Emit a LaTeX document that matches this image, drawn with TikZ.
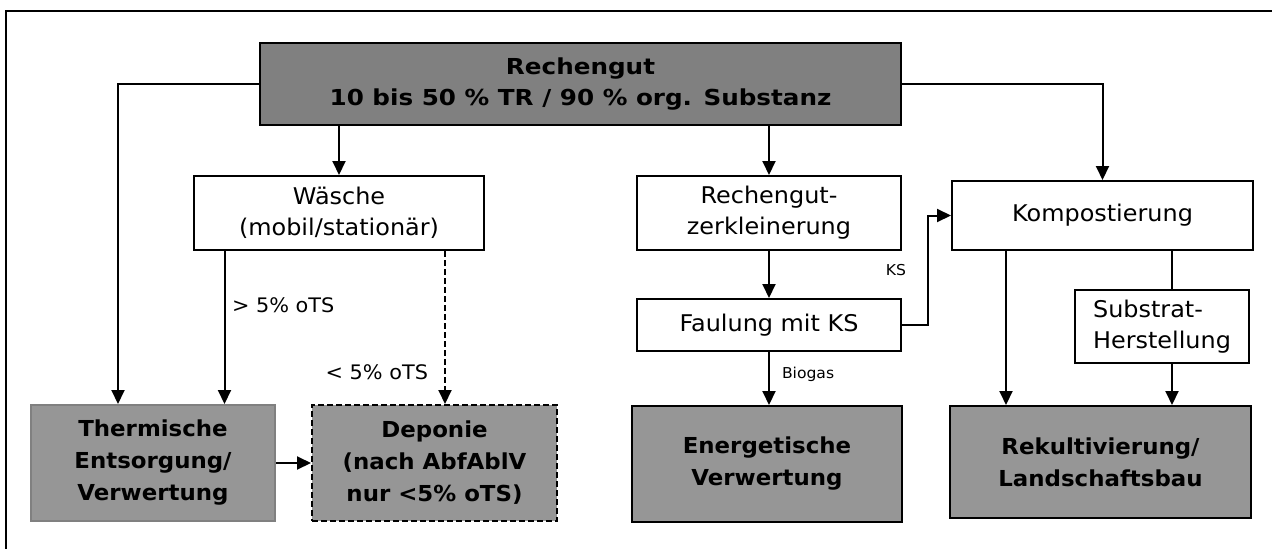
\documentclass[tikz,border=0pt]{standalone}
\usepackage{fontspec}
\setmainfont{DejaVu Sans}[FakeStretch=1.04]
\newfontfamily\kopffont{DejaVu Sans}[FakeStretch=1.12]
\usepackage{tikz}
\usetikzlibrary{arrows.meta}
\definecolor{dunkel}{RGB}{128,128,128}
\definecolor{hell}{RGB}{150,150,150}

\begin{document}
\begin{tikzpicture}[x=1pt,y=-1pt,line width=2pt,>={Triangle[length=14pt,width=13pt]}]
	\tikzstyle{kasten}=[draw,rectangle,inner sep=2pt,align=center,font=\fontsize{23}{31}\selectfont];
	\tikzstyle{ziel}=[kasten,fill=hell,font=\bfseries\fontsize{22}{32}\selectfont];
	\tikzstyle{notiz}=[inner sep=0pt,font=\fontsize{20}{24}\selectfont];
	\tikzstyle{mini}=[inner sep=0pt,font=\fontsize{15}{18}\selectfont];
	\tikzstyle{pfeil}=[->];
%<--------------------------------------------------------------------------->%
	\useasboundingbox (0,0) rectangle (1272,549);
	%% frame
	\draw (1272,11) -- (6,11) -- (6,549);
	%% boxes
	\node[kasten,fill=dunkel,font=\kopffont\bfseries\fontsize{22}{31}\selectfont,
	      minimum width=641pt,minimum height=82pt] (recht) at (580.5,84)
	      {Rechengut\\10 bis 50 \% TR / 90 \% org. Substanz};
	\node[kasten,minimum width=290pt,minimum height=74pt] (waesche) at (339,213)
	      {Wäsche\\(mobil/stationär)};
	\node[kasten,minimum width=264pt,minimum height=74pt] (zerkl) at (769,213)
	      {Rechengut-\\zerkleinerung};
	\node[kasten,minimum width=301pt,minimum height=69pt] (kompost) at (1102.5,215.5)
	      {Kompostierung};
	\node[kasten,minimum width=264pt,minimum height=52pt] (faul) at (769,325)
	      {Faulung mit KS};
	\node[kasten,align=left,minimum width=174pt,minimum height=73pt] (substrat) at (1162,326.5)
	      {Substrat-\\Herstellung};
	\node[ziel,draw=dunkel,minimum width=244pt,minimum height=116pt] (therm) at (153,463)
	      {Thermische\\Entsorgung/\\Verwertung};
	\node[ziel,dash pattern=on 6pt off 3pt,minimum width=245pt,minimum height=116pt] (depon) at (434.5,463)
	      {Deponie\\(nach AbfAblV\\nur <5\% oTS)};
	\node[ziel,minimum width=270pt,minimum height=116pt] (energ) at (767,464)
	      {Energetische\\Verwertung};
	\node[ziel,minimum width=301pt,minimum height=112pt] (rekult) at (1100.5,462)
	      {Rekultivierung/\\Landschaftsbau};
	%% helper points
	\coordinate (lk) at (118,84);
	\coordinate (wl) at ([xshift=-114.5pt]waesche.south);
	\coordinate (wr) at ([xshift=106pt]waesche.south);
	\coordinate (kl) at ([xshift=-96.5pt]kompost.south);
	\coordinate (kr) at ([xshift=69.5pt]kompost.south);
	%% connectors
	\draw[pfeil] (recht.west) -- (lk) -- (lk |- therm.north);
	\draw[pfeil] (recht.south -| waesche.north) -- (waesche.north);
	\draw[pfeil] (recht.south -| zerkl.north) -- (zerkl.north);
	\draw[pfeil] (recht.east) -| (kompost.north);
	\draw[pfeil] (wl) -- (wl |- therm.north);
	\draw[pfeil,dash pattern=on 6pt off 3pt] (wr) -- (wr |- depon.north);
	\draw[pfeil] (therm.east) -- (depon.west);
	\draw[pfeil] (zerkl.south) -- (faul.north);
	\draw[pfeil] (faul.south) -- (faul.south |- energ.north);
	\draw[pfeil] (faul.east) -- ++(26,0) |- (kompost.west);
	\draw[pfeil] (kl) -- (kl |- rekult.north);
	\draw (kr) -- (kr |- substrat.north);
	\draw[pfeil] (kr |- substrat.south) -- (kr |- rekult.north);
	%% labels
	\node[notiz,anchor=west] (gross) at (231,305) {> 5\% oTS};
	\node[notiz,anchor=east] (klein) at (429,372) {< 5\% oTS};
	\node[mini] (ks) at (896,270) {KS};
	\node[mini,anchor=west] (biogas) at (781,374) {Biogas};
\end{tikzpicture}
\end{document}
